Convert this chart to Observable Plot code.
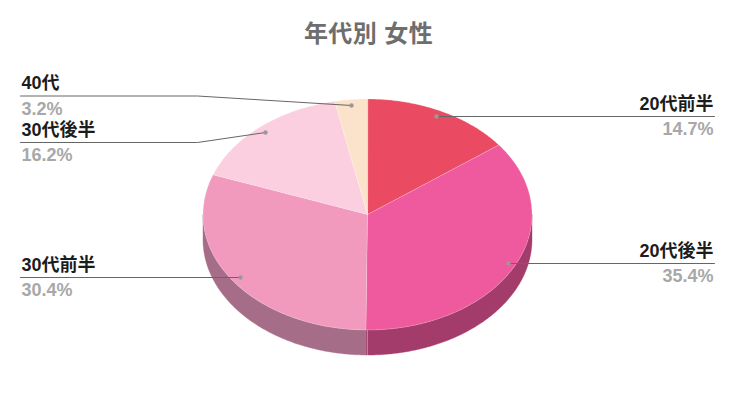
<!DOCTYPE html>
<html lang="ja">
<head>
<meta charset="utf-8">
<script src="https://cdn.jsdelivr.net/npm/d3@7"></script>
<script src="https://cdn.jsdelivr.net/npm/@observablehq/plot@0.6"></script>
<style>
html,body{margin:0;padding:0;background:#fff}
svg{display:block}
svg text{font-family:"Liberation Sans","Noto Sans CJK JP",sans-serif !important}
</style>
</head>
<body>
<div id="chart"></div>
<script>
const chartTitle = "年代別 女性";
const categories = ["20代前半", "20代後半", "30代前半", "30代後半", "40代"];
const shareValues = [14.7, 35.4, 30.4, 16.2, 3.2];
const faceColors = ["#eb4b62", "#ee5a9d", "#f29abd", "#fbcfdf", "#fbe3cb"];
const sideColors = ["#a3344a", "#a43c6b", "#a66d89", "#b08c9a", "#b09c8c"];

// Layout (pixels)
const W = 735, H = 412;
const cx = 367, cy = 214, rx = 164.5, ry = 115.5, depth = 25;
// per category: text anchor x, leader y, leader path, end dot
const leaderRows = [
  {anchor: "end",   tx: 713, ly: 116, path: [[714, 116], [436, 116]]},
  {anchor: "end",   tx: 713, ly: 263, path: [[714, 263], [508, 263]]},
  {anchor: "start", tx: 21,  ly: 277, path: [[20, 277], [240, 277]]},
  {anchor: "start", tx: 21,  ly: 142, path: [[20, 142], [197, 142], [265, 132]]},
  {anchor: "start", tx: 21,  ly: 95.5, path: [[20, 95.5], [197, 95.5], [351, 105]]}
];

const pie = d3.pie().sort(null).value(d => d.value)(
  categories.map((name, i) => ({name, value: shareValues[i], i}))
);

const at = (t, dy = 0) => [cx + rx * Math.sin(t), cy - ry * Math.cos(t) + dy];
const arc = (a, b) => {
  const n = Math.max(2, Math.ceil(Math.abs(b - a) / 0.01));
  return d3.range(n + 1).map(k => a + (b - a) * k / n);
};

const marks = [];

// side wall: only the front half of the disc shows
pie.forEach(s => {
  const a = Math.max(s.startAngle, Math.PI / 2), b = Math.min(s.endAngle, 3 * Math.PI / 2);
  if (b <= a) return;
  const ts = arc(a, b);
  const pts = [...ts.map(t => at(t, 0)), ...ts.slice().reverse().map(t => at(t, depth))];
  marks.push(Plot.line(pts, {x: d => d[0], y: d => d[1], curve: "linear-closed",
    fill: sideColors[s.data.i], stroke: sideColors[s.data.i], strokeWidth: 0.4}));
});
// split on the wall where the slices meet
marks.push(Plot.line([at(Math.PI), at(Math.PI, depth)], {x: d => d[0], y: d => d[1], stroke: "#ffffff", strokeOpacity: 0.35, strokeWidth: 1}));

// top faces
pie.forEach(s => {
  const pts = [[cx, cy], ...arc(s.startAngle, s.endAngle).map(t => at(t))];
  marks.push(Plot.line(pts, {x: d => d[0], y: d => d[1], curve: "linear-closed",
    fill: faceColors[s.data.i], stroke: "#ffffff", strokeOpacity: 0.3, strokeWidth: 0.7}));
});

// leaders
leaderRows.forEach(l => {
  marks.push(Plot.line(l.path, {x: d => d[0], y: d => d[1], stroke: "#666666", strokeWidth: 1}));
  const e = l.path[l.path.length - 1];
  marks.push(Plot.dot([e], {x: d => d[0], y: d => d[1], r: 2.2, fill: "#999999", stroke: "none"}));
});

// labels
const rows = categories.map((name, i) => ({
  name, pct: shareValues[i].toFixed(1) + "%", ...leaderRows[i]
}));
for (const anchor of ["start", "end"]) {
  const sub = rows.filter(r => r.anchor === anchor);
  marks.push(Plot.text(sub, {x: "tx", y: d => d.ly - 12.5, text: "name", textAnchor: anchor, lineAnchor: "middle",
    fontSize: 18, fontWeight: 700, fill: "#1c1c1c"}));
  marks.push(Plot.text(sub, {x: "tx", y: d => d.ly + 13, text: "pct", textAnchor: anchor, lineAnchor: "middle",
    fontSize: 18, fontWeight: 700, fill: "#a8a8a8"}));
}

// title
marks.push(Plot.text([chartTitle], {x: () => 368, y: () => 34, text: d => d, textAnchor: "middle", lineAnchor: "middle",
  fontSize: 24, fontWeight: 700, fill: "#6e6e6e"}));

const plot = Plot.plot({
  width: W, height: H, margin: 0,
  x: {domain: [0, W], range: [0, W], axis: null},
  y: {domain: [0, H], range: [0, H], axis: null},
  style: {background: "#fff"},
  marks
});
d3.select(plot).selectAll("text").filter(function () { return this.textContent === chartTitle; })
  .style("letter-spacing", "0.4px");
document.getElementById("chart").append(plot);
</script>
</body>
</html>
